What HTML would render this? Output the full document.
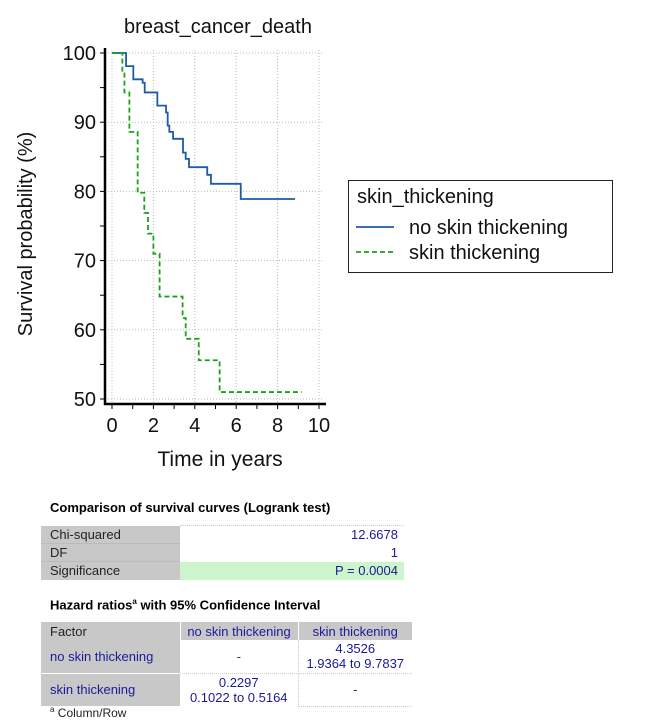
<!DOCTYPE html>
<html><head><meta charset="utf-8"><style>
body{margin:0;background:#fff;font-family:"Liberation Sans",Arial,sans-serif;}
#wrap{position:relative;width:646px;height:721px;overflow:hidden;}
svg{position:absolute;left:0;top:0;}
.h{position:absolute;font-weight:bold;font-size:13px;color:#000;}
table{position:absolute;border-collapse:collapse;font-size:13px;table-layout:fixed;}
td{padding:0 6px 0 9px;overflow:hidden;white-space:nowrap;}
.g{background:#c8c8c8;color:#222;}
.v{color:#1a1a9a;}
</style></head><body>
<div id="wrap">
<svg id="chart" width="646" height="480"></svg>
<div class="h" style="left:50px;top:500px">Comparison of survival curves (Logrank test)</div>
<table style="left:41px;top:525px;width:363px">
<colgroup><col style="width:139px"><col style="width:224px"></colgroup>
<tr style="height:18px"><td class="g" style="border-bottom:1px solid #bbb">Chi-squared</td><td class="v" style="text-align:right;border-top:1px dotted #ccc">12.6678</td></tr>
<tr style="height:18px"><td class="g" style="border-bottom:1px solid #bbb">DF</td><td class="v" style="text-align:right">1</td></tr>
<tr style="height:18px"><td class="g">Significance</td><td class="v" style="text-align:right;background:#ccf5cc">P = 0.0004</td></tr>
</table>
<div class="h" style="left:50px;top:597px">Hazard ratios<sup style="font-size:8px">a</sup> with 95% Confidence Interval</div>
<table style="left:41px;top:622px;width:371px">
<colgroup><col style="width:139px"><col style="width:118px"><col style="width:114px"></colgroup>
<tr style="height:18px"><td class="g">Factor</td><td class="g v" style="text-align:center;color:#1a1a9a;padding:0 2px;border-left:1px solid #fff">no skin thickening</td><td class="g v" style="text-align:center;color:#1a1a9a;padding:0 2px;border-left:1px solid #fff">skin thickening</td></tr>
<tr style="height:33px"><td class="g v" style="color:#1a1a9a;border-bottom:1px solid #fff">no skin thickening</td><td class="v" style="text-align:center;color:#333;padding:0 2px;border-bottom:1px dotted #ccc;border-right:1px dotted #ccc">-</td><td class="v" style="text-align:center;padding:0 2px;line-height:15px;border-bottom:1px dotted #ccc">4.3526<br>1.9364 to 9.7837</td></tr>
<tr style="height:33px"><td class="g v" style="color:#1a1a9a">skin thickening</td><td class="v" style="text-align:center;padding:0 2px;line-height:15px;border-right:1px dotted #ccc">0.2297<br>0.1022 to 0.5164</td><td style="text-align:center;padding:0 2px;color:#333;border-bottom:1px dotted #ccc">-</td></tr>
</table>
<div style="position:absolute;left:50px;top:705px;font-size:12px;color:#222"><sup style="font-size:8px">a</sup> Column/Row</div>
</div>
<script>
const xTicks=[0,2,4,6,8,10];
const yTicks=[50,60,70,80,90,100];
const noSkinTimes=[0,0.68,1.03,1.48,1.58,2.19,2.61,2.69,2.77,2.95,3.43,3.56,3.72,4.6,4.78,6.22,8.84];
const noSkinSurv=[100,98.1,96.2,95.7,94.3,92.4,91.4,89.5,88.6,87.6,85.6,84.7,83.5,82.4,81.1,78.9,78.9];
const skinTimes=[0,0.5,0.6,0.84,1.24,1.56,1.74,2.0,2.3,3.41,3.56,4.19,5.2,9.16];
const skinSurv=[100,97.2,94.3,88.6,79.8,76.9,73.9,71.0,64.8,61.7,58.7,55.6,51.0,51.0];
const NS='http://www.w3.org/2000/svg';
const svg=document.getElementById('chart');
const X=t=>112+t*20.7;
const Y=v=>53+(100-v)*6.92;
function mk(tag,attrs,txt){const e=document.createElementNS(NS,tag);for(const k in attrs)e.setAttribute(k,attrs[k]);if(txt!==undefined)e.textContent=txt;svg.appendChild(e);return e;}
xTicks.forEach(t=>{const l=mk('line',{x1:X(t),x2:X(t),y1:50,y2:404,stroke:'#bbb','stroke-dasharray':'1,2'});

});
yTicks.forEach(v=>{const l=mk('line',{x1:105,x2:322,y1:Y(v),y2:Y(v),stroke:'#bbb','stroke-dasharray':'1,2'});

});
let a=mk('line',{x1:105,x2:105,y1:48,y2:405,stroke:'#000','stroke-width':2.5});


a=mk('line',{x1:104,x2:326,y1:404,y2:404,stroke:'#000','stroke-width':2.5});


for(let v=50;v<=100;v+=5){const l=mk('line',{x1:100,x2:105,y1:Y(v),y2:Y(v),stroke:'#000'});

}
for(let t=0;t<=10;t+=1){const l=mk('line',{x1:X(t),x2:X(t),y1:404,y2:409,stroke:'#000'});

}
yTicks.forEach(v=>{const e=mk('text',{x:96,y:Y(v)+7,'text-anchor':'end','font-size':20,fill:'#111'},String(v));

});
xTicks.forEach(t=>{const e=mk('text',{x:X(t),y:432,'text-anchor':'middle','font-size':20,fill:'#111'},String(t));

});
let e=mk('text',{x:218,y:33,'text-anchor':'middle','font-size':20,fill:'#111'},'breast_cancer_death');


e=mk('text',{x:220,y:466,'text-anchor':'middle','font-size':21,fill:'#111'},'Time in years');


e=mk('text',{x:0,y:0,'text-anchor':'middle','font-size':20,fill:'#111',transform:'translate(32,234) rotate(-90)'},'Survival probability (%)');


function stepPath(ts,vs){let d='M'+X(ts[0])+','+Y(vs[0]);for(let i=1;i<ts.length;i++){d+=' H'+X(ts[i])+' V'+Y(vs[i]);}return d;}
e=mk('path',{d:stepPath(noSkinTimes,noSkinSurv),fill:'none',stroke:'#1f5aa8','stroke-width':1.8});


e=mk('path',{d:stepPath(skinTimes,skinSurv),fill:'none',stroke:'#1aa31a','stroke-width':1.8,'stroke-dasharray':'5,3'});


e=mk('rect',{x:348.5,y:180.5,width:264,height:92,fill:'#fff',stroke:'#222'});


e=mk('text',{x:357,y:203,'font-size':20,fill:'#111'},'skin_thickening');


e=mk('line',{x1:356,x2:394,y1:227,y2:227,stroke:'#1f5aa8','stroke-width':1.8});


e=mk('text',{x:409,y:234,'font-size':20,fill:'#111'},'no skin thickening');


e=mk('line',{x1:356,x2:394,y1:252,y2:252,stroke:'#1aa31a','stroke-width':1.8,'stroke-dasharray':'5,3'});


e=mk('text',{x:409,y:259,'font-size':20,fill:'#111'},'skin thickening');


</script>
</body></html>
